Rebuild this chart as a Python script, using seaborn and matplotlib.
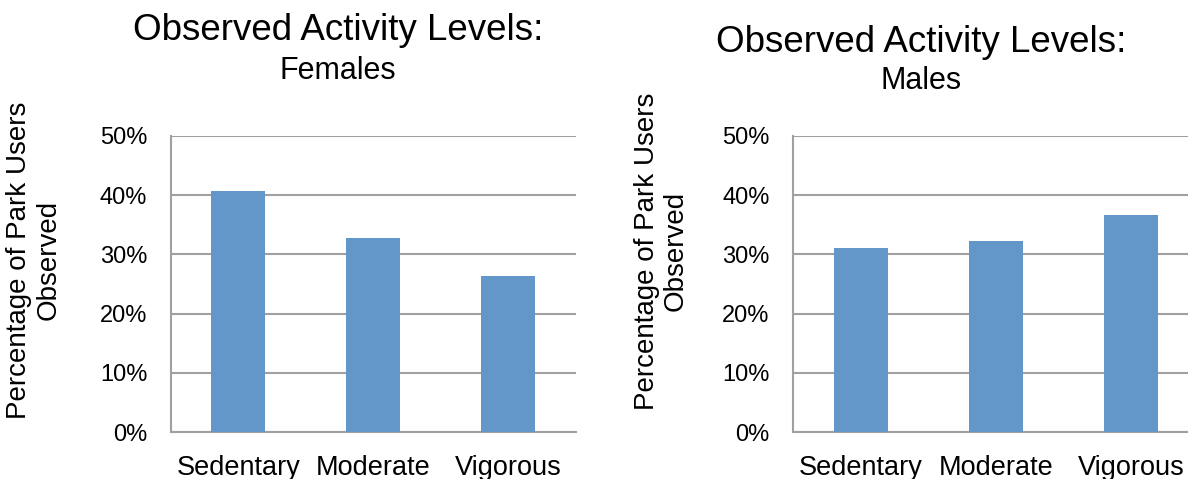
import matplotlib
matplotlib.use("Agg")
import matplotlib.pyplot as plt
import seaborn as sns
import pandas as pd
from matplotlib.ticker import FuncFormatter

categories = ["Sedentary", "Moderate", "Vigorous"]
females = [40.7, 32.8, 26.4]
males = [31.1, 32.3, 36.7]
yticks = [0, 10, 20, 30, 40, 50]

sns.set_theme(style="white")
plt.rcParams["font.family"] = ["Liberation Sans", "DejaVu Sans"]
plt.rcParams["text.color"] = "black"

BAR = "#6397CA"
GRID = "#a0a0a0"

fig = plt.figure(figsize=(11.88, 4.79), dpi=100)
ax_f = fig.add_axes([0.1439, 0.0975, 0.3409, 0.6192])
ax_m = fig.add_axes([0.6678, 0.0975, 0.3409, 0.6192])

panels = [
    (ax_f, females, "Females", 0.2845, 0.937, 0.852, (34, 260)),
    (ax_m, males, "Males", 0.7757, 0.912, 0.830, (661, 251)),
]

W, H = 1188, 479

for ax, vals, sub, tx, ty1, ty2, (lx, ly) in panels:
    df = pd.DataFrame({"Activity": categories, "Pct": vals})
    sns.barplot(data=df, x="Activity", y="Pct", color=BAR, width=0.4,
                saturation=1, linewidth=0, ax=ax, zorder=3)
    ax.set_ylim(0, 50)
    ax.set_xlim(-0.5, 2.5)
    ax.set_yticks(yticks)
    ax.yaxis.set_major_formatter(FuncFormatter(lambda v, p: f"{v:.0f}%"))
    ax.grid(axis="y", color=GRID, linewidth=1.5, zorder=0)
    ax.set_axisbelow(True)
    for s in ["top", "right"]:
        ax.spines[s].set_visible(False)
    for s in ["left", "bottom"]:
        ax.spines[s].set_color(GRID)
        ax.spines[s].set_linewidth(1.5)
    ax.tick_params(axis="y", labelsize=17, length=0, pad=17, colors="black")
    ax.tick_params(axis="x", labelsize=19.5, length=0, pad=16, colors="black")
    ax.set_xlabel("")
    ax.set_ylabel("")
    fig.text(lx / W, 1 - ly / H, "Percentage of Park Users\nObserved",
             fontsize=20, rotation=90, ha="center", va="center",
             multialignment="center", linespacing=1.15)
    fig.text(tx, ty1, "Observed Activity Levels:", fontsize=26.5,
             ha="center", va="center")
    fig.text(tx, ty2, sub, fontsize=22, ha="center", va="center")

fig.savefig("out.png", dpi=100)
